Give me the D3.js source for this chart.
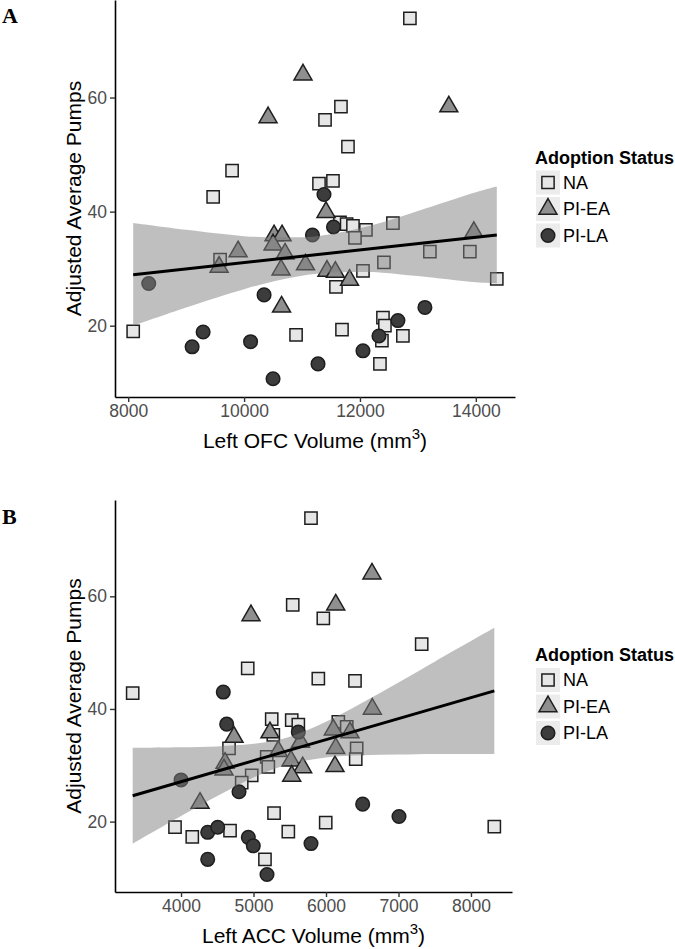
<!DOCTYPE html>
<meta charset="utf-8">
<head>
<title>Adjusted Average Pumps vs OFC / ACC Volume</title>
<script src="https://d3js.org/d3.v7.min.js"></script>
<style>
  body { margin: 0; background: #fff; }
  svg text { font-family: "Liberation Sans", Arial, sans-serif; }
</style>
</head>
<body>
<div id="chart"></div>
<script>
// ---- values ----
var groups = ["NA", "PI-EA", "PI-LA"];
var yTicks = [20, 40, 60];
var yDomain = [7.5, 77.1];

// panel A : Left OFC volume
var ofcTicks = [8000, 10000, 12000, 14000];
var ofcDomain = [7772, 14676];
var ofcNA = [[12862,73.9],[11672,58.4],[11397,56.1],[11793,51.4],[9793,47.2],[11293,44.9],[11534,45.4],
  [9466,42.6],[12569,38.0],[11655,38.1],[11770,37.8],[11879,37.5],[12103,36.8],[11914,35.4],[13207,33.0],
  [13897,33.0],[9586,31.6],[12414,31.1],[12052,29.6],[14362,28.2],[11586,26.8],[12397,21.4],[12431,20.0],
  [12741,18.2],[12379,17.4],[10897,18.4],[11690,19.3],[8086,19.0],[12345,13.3]];
var ofcEA = [[11017,64.0],[10414,56.5],[13534,58.4],[11414,39.9],[13966,36.4],[10517,35.8],[10655,35.8],
  [10500,34.2],[10707,32.6],[9897,33.0],[9569,30.3],[10638,29.8],[11060,30.7],[11431,29.6],[11575,29.4],
  [11820,28.0],[10647,23.3]];
var ofcLA = [[11379,43.0],[11543,37.3],[11180,35.9],[8354,27.4],[10345,25.4],[13121,23.2],[12655,20.9],
  [12328,18.2],[9293,18.9],[9103,16.3],[10112,17.2],[12052,15.6],[11276,13.3],[10500,10.7]];
var ofcFit = [[8086, 28.95], [14362, 35.9]];
var ofcBandX  = [8086, 9000, 10000, 10655, 11250, 12000, 12380, 13000, 14000, 14362];
var ofcBandLo = [20.0, 23.2, 26.4, 28.1, 29.1, 29.4, 29.3, 28.7, 27.6, 27.4];
var ofcBandHi = [38.0, 36.8, 35.7, 35.5, 35.7, 37.1, 38.1, 40.1, 43.4, 44.4];

// panel B : Left ACC volume
var accTicks = [4000, 5000, 6000, 7000, 8000];
var accDomain = [3089, 8566];
var accNA = [[5793,73.9],[5541,58.5],[5963,56.1],[7320,51.5],[4920,47.2],[5894,45.4],[6400,45.0],
  [3333,42.8],[5251,38.2],[5527,38.0],[5618,37.2],[6170,37.7],[6286,36.8],[5273,35.4],[4662,33.0],
  [6423,33.0],[5182,31.5],[6410,31.1],[5204,29.7],[4975,28.2],[4837,26.9],[5283,21.5],[5996,19.8],
  [5480,18.2],[3917,19.0],[4155,17.3],[4676,18.4],[8322,19.1],[5158,13.3]];
var accEA = [[6634,64.0],[4965,56.6],[6134,58.5],[6639,40.0],[4731,35.0],[5227,35.8],[6101,36.3],
  [6331,35.8],[5648,34.1],[5342,32.5],[6134,33.0],[4607,30.4],[4593,29.2],[5517,30.8],[5678,29.6],
  [6124,29.8],[5527,28.1],[4262,23.3]];
var accLA = [[4583,43.0],[4630,37.3],[5618,35.9],[4000,27.4],[4800,25.3],[6506,23.1],[7007,20.9],
  [4368,18.1],[4506,19.0],[4928,17.2],[4997,15.7],[5793,16.1],[4368,13.3],[5186,10.6]];
var accFit = [[3333, 24.6], [8322, 43.2]];
var accBandX  = [3333, 4000, 4500, 5000, 5458, 6000, 6500, 7000, 7500, 8322];
var accBandLo = [16.1, 21.0, 24.55, 27.85, 30.1, 31.4, 31.8, 31.9, 32.0, 32.0];
var accBandHi = [33.1, 33.2, 33.35, 33.8, 34.9, 37.75, 41.1, 44.7, 48.4, 54.4];

// ---- drawing ----
var width = 675, height = 949;
var svg = d3.select("#chart").append("svg")
    .attr("width", width)
    .attr("height", height);

var fills  = {"NA": "#e6e6e6", "PI-EA": "#8f8f8f", "PI-LA": "#3c3c3c"};
var shapes = {"NA": d3.symbolSquare, "PI-EA": d3.symbolTriangle, "PI-LA": d3.symbolCircle};
var sizes  = {"NA": 150, "PI-EA": 140, "PI-LA": 145};

function symbolPath(grp) {
    return d3.symbol().type(shapes[grp]).size(sizes[grp])();
}

function drawPanel(p) {
    var x = d3.scaleLinear().domain(p.xDomain).range([p.left, p.right]);
    var y = d3.scaleLinear().domain(yDomain).range([p.bottom, p.top]);
    var g = svg.append("g");

    // points first, smoother goes over them
    p.sets.forEach(function(set, i) {
        var grp = groups[i];
        g.selectAll(".pt" + i)
            .data(set)
            .enter()
            .append("path")
            .attr("d", symbolPath(grp))
            .attr("transform", function(d) { return "translate(" + x(d[0]) + "," + y(d[1]) + ")"; })
            .attr("fill", fills[grp])
            .attr("stroke", "#1e1e1e")
            .attr("stroke-width", 1.5);
    });

    var area = d3.area()
        .x(function(d, i) { return x(p.bandX[i]); })
        .y0(function(d, i) { return y(p.bandLo[i]); })
        .y1(function(d, i) { return y(p.bandHi[i]); })
        .curve(d3.curveCatmullRom);
    g.append("path")
        .attr("d", area(p.bandX))
        .attr("fill", "#808080")
        .attr("fill-opacity", 0.5);

    g.append("line")
        .attr("x1", x(p.fit[0][0])).attr("y1", y(p.fit[0][1]))
        .attr("x2", x(p.fit[1][0])).attr("y2", y(p.fit[1][1]))
        .attr("stroke", "#000")
        .attr("stroke-width", 3);

    // axes
    var xAxis = g.append("g")
        .attr("transform", "translate(0," + p.bottom + ")")
        .call(d3.axisBottom(x).tickValues(p.xTicks).tickFormat(d3.format("d"))
            .tickSize(5).tickSizeOuter(0).tickPadding(3));
    var yAxis = g.append("g")
        .attr("transform", "translate(" + p.left + ",0)")
        .call(d3.axisLeft(y).tickValues(yTicks).tickSize(5).tickSizeOuter(0).tickPadding(3));
    [xAxis, yAxis].forEach(function(a) {
        a.attr("font-size", 17.5).attr("font-family", "Liberation Sans, Arial, sans-serif");
        a.select(".domain").attr("stroke", "#000").attr("stroke-width", 1.6);
        a.selectAll(".tick line").attr("stroke", "#333").attr("stroke-width", 1.4);
        a.selectAll(".tick text").attr("fill", "#4d4d4d");
    });

    // axis titles
    var xt = g.append("text")
        .attr("x", (p.left + p.right) / 2)
        .attr("y", p.bottom + 51)
        .attr("text-anchor", "middle")
        .attr("font-size", 21)
        .attr("fill", "#000");
    xt.append("tspan").text(p.xLabel + " (mm");
    xt.append("tspan").attr("dy", -9).attr("font-size", 15).text("3");
    xt.append("tspan").attr("dy", 9).text(")");

    g.append("text")
        .attr("transform", "translate(81," + (p.top + p.bottom) / 2 + ") rotate(-90)")
        .attr("text-anchor", "middle")
        .attr("font-size", 21)
        .attr("fill", "#000")
        .text("Adjusted Average Pumps");

    // panel letter
    g.append("text")
        .attr("x", 2)
        .attr("y", p.letterY)
        .style("font-family", "Liberation Serif, Times New Roman, serif")
        .attr("font-weight", "bold")
        .attr("font-size", 22)
        .text(p.letter);

    // legend
    var mid = (p.top + p.bottom) / 2;
    var lg = g.append("g").attr("transform", "translate(535," + (mid - 35) + ")");
    lg.append("text")
        .attr("x", 0).attr("y", 0)
        .attr("font-size", 18)
        .attr("font-weight", "bold")
        .text("Adoption Status");
    groups.forEach(function(grp, i) {
        var ky = 7 + i * 26.5;
        lg.append("rect")
            .attr("x", 1).attr("y", ky)
            .attr("width", 24).attr("height", 24)
            .attr("fill", "#ececec");
        lg.append("path")
            .attr("d", symbolPath(grp))
            .attr("transform", "translate(13," + (ky + 12) + ")")
            .attr("fill", fills[grp])
            .attr("stroke", "#1e1e1e")
            .attr("stroke-width", 1.5);
        lg.append("text")
            .attr("x", 28).attr("y", ky + 18)
            .attr("font-size", 18)
            .text(grp);
    });
}

drawPanel({
    letter: "A", letterY: 23,
    left: 115, right: 515, top: 0, bottom: 397,
    xDomain: ofcDomain, xTicks: ofcTicks, xLabel: "Left OFC Volume",
    sets: [ofcNA, ofcEA, ofcLA],
    fit: ofcFit, bandX: ofcBandX, bandLo: ofcBandLo, bandHi: ofcBandHi
});

drawPanel({
    letter: "B", letterY: 524,
    left: 115, right: 512, top: 500, bottom: 892,
    xDomain: accDomain, xTicks: accTicks, xLabel: "Left ACC Volume",
    sets: [accNA, accEA, accLA],
    fit: accFit, bandX: accBandX, bandLo: accBandLo, bandHi: accBandHi
});
</script>
</body>
</html>
